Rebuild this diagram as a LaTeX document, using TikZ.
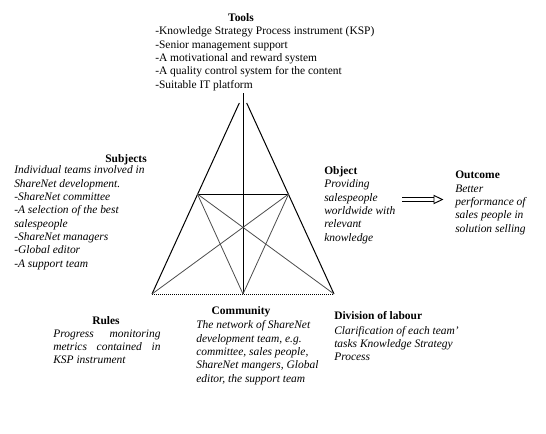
\documentclass[tikz,border=0pt]{standalone}
\usepackage{fontspec}
\setmainfont{Liberation Serif}
\usetikzlibrary{arrows.meta}
\newcommand{\diafont}{\fontsize{8.6}{10}\selectfont}

\begin{document}
\begin{tikzpicture}[
  x=0.75pt, y=-0.75pt,
  font=\diafont,
  heading/.style={font=\diafont\bfseries, inner sep=0pt},
  listtext/.style={align=left, inner sep=0pt, anchor=base west, font=\diafont},
  itemtext/.style={listtext, font=\diafont\itshape},
  side/.style={line width=0.75pt, draw=black},
  cross/.style={line width=0.6pt, draw=black!70},
  groundline/.style={line width=0.75pt, draw=black, dash pattern=on 0.75pt off 0.75pt},
  blockarrow/.style={double, double distance=2.4pt, line width=0.7pt, -{Triangle[open, length=7.5pt, width=7pt]}}
]
\useasboundingbox (0,0) rectangle (546,433);

% activity triangle
\coordinate (top) at (243,93);
\coordinate (topl) at (239.3,103);
\coordinate (topr) at (246.7,103);
\coordinate (bl) at (152,294);
\coordinate (br) at (334,294);
\coordinate (bm) at (243,294);
\coordinate (ml) at (197.4,194);
\coordinate (mr) at (288.6,194);

\draw[side] (bl) -- (topl);
\draw[side] (br) -- (topr);
\draw[side] (top) -- (bm);
\draw[side] (ml) -- (mr);
\draw[groundline] (bl) -- (br);
\draw[cross] (ml) -- (bm);
\draw[cross] (mr) -- (bm);
\draw[cross] (ml) -- (br);
\draw[cross] (mr) -- (bl);

% Tools (body nodes sit on the baseline of their last line)
\node[heading, anchor=base] (toolst) at (241,21) {Tools};
\node[listtext] (tools) at (155,88.3) {-Knowledge Strategy Process instrument (KSP)\\
-Senior management support\\
-A motivational and reward system\\
-A quality control system for the content\\
-Suitable IT platform};

% Subjects
\node[heading, anchor=base east] (subjt) at (147,162) {Subjects};
\node[itemtext] (subj) at (14,267.3) {Individual teams involved in\\
ShareNet development.\\
-ShareNet committee\\
-A selection of the best\\
salespeople\\
-ShareNet managers\\
-Global editor\\
-A support team};

% Object
\node[heading, anchor=base west] (objt) at (324,174) {Object};
\node[itemtext] (obj) at (324,241.3) {Providing\\
salespeople\\
worldwide with\\
relevant\\
knowledge};

% Outcome
\node[heading, anchor=base west] (outt) at (455,178) {Outcome};
\node[itemtext] (out) at (455,232) {Better\\
performance of\\
sales people in\\
solution selling};

\coordinate (arrs) at (402,199.5);
\coordinate (arre) at (443.5,199.5);
\draw[blockarrow] (arrs) -- (arre);

% Rules
\node[heading, anchor=base] (rulest) at (106,324) {Rules};
\node[itemtext] (rules) at (53,363.7) {\makebox[80.5pt][s]{Progress monitoring}\\
\makebox[80.5pt][s]{metrics contained in}\\
KSP instrument};

% Community
\node[heading, anchor=base] (commt) at (241,314) {Community};
\node[itemtext] (comm) at (196,382.3) {The network of ShareNet\\
development team, e.g.\\
committee, sales people,\\
ShareNet mangers, Global\\
editor, the support team};

% Division of labour
\node[heading, anchor=base west] (divt) at (334,319) {Division of labour};
\node[itemtext] (div) at (334,360.7) {Clarification of each team'\\
tasks Knowledge Strategy\\
Process};

\end{tikzpicture}
\end{document}
